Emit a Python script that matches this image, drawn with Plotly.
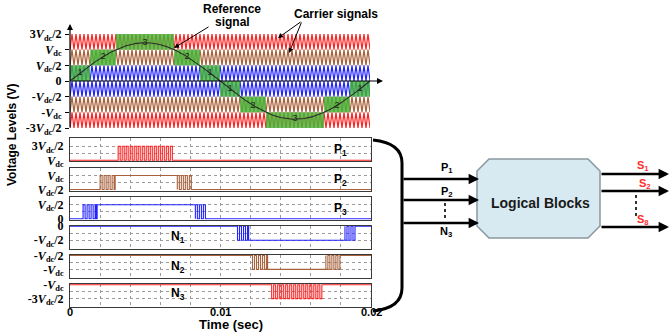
import numpy as np
import plotly.graph_objects as go

W, H = 670, 332

# ---------------- data ----------------
period_end = 0.02            # s, time span shown
ref_freq = 50.0              # Hz, reference sine
ref_amp = 2.44               # in units of Vdc/2
carrier_freq = 3750.0        # Hz, carrier triangles
band_levels = [-3, -2, -1, 0, 1, 2]          # lower edge of each carrier band (Vdc/2 units)
band_colors = ["#ff2222", "#a8613a", "#2222ff", "#2222ff", "#a8613a", "#ff2222"]
top_tick_vals = [3, 2, 1, 0, -1, -2, -3]
top_tick_text = ["3<i>V</i><sub>dc</sub>/2", "<i>V</i><sub>dc</sub>", "<i>V</i><sub>dc</sub>/2", "0",
                 "-<i>V</i><sub>dc</sub>/2", "-<i>V</i><sub>dc</sub>", "-3<i>V</i><sub>dc</sub>/2"]

panel_names = ["P<sub>1</sub>", "P<sub>2</sub>", "P<sub>3</sub>", "N<sub>1</sub>", "N<sub>2</sub>", "N<sub>3</sub>"]
panel_kind = ["P", "P", "P", "N", "N", "N"]
panel_colors = ["#ff2222", "#a8613a", "#2222ff", "#2222ff", "#a8613a", "#ff2222"]
panel_hi_text = ["3<i>V</i><sub>dc</sub>/2", "<i>V</i><sub>dc</sub>", "<i>V</i><sub>dc</sub>/2",
                 "0", "-<i>V</i><sub>dc</sub>/2", "-<i>V</i><sub>dc</sub>"]
panel_lo_text = ["<i>V</i><sub>dc</sub>", "<i>V</i><sub>dc</sub>/2", "0",
                 "-<i>V</i><sub>dc</sub>/2", "-<i>V</i><sub>dc</sub>", "-3<i>V</i><sub>dc</sub>/2"]
# switching windows (s)
panel_windows = [
    [(0.0032, 0.0068)],
    [(0.0020, 0.0030), (0.00713, 0.00813)],
    [(0.00087, 0.00173), (0.00833, 0.00913)],
    [(0.01113, 0.01187), (0.01827, 0.0190)],
    [(0.01213, 0.01313), (0.0170, 0.0180)],
    [(0.0134, 0.01673)],
]
x_ticks = [round(0.002 * i, 3) for i in range(11)]
x_label_vals = [0.0, 0.01, 0.02]
x_label_text = ["0", "0.01", "0.02"]

# ---------------- helpers ----------------
def PX(x):
    return x / W

def PY(y):
    return 1 - y / H

fig = go.Figure()

# ---- top panel: carriers ----
t = np.linspace(0, period_end, 6001)
phase = (t * carrier_freq) % 1.0
tri = 1 - 2 * np.abs(phase - 0.5)  # 0..1..0
for lvl, col in zip(band_levels, band_colors):
    fig.add_trace(go.Scatter(x=t, y=lvl + tri, mode="lines", line=dict(color=col, width=1.2),
                             xaxis="x", yaxis="y", hoverinfo="skip", showlegend=False))

ref = ref_amp * np.sin(2 * np.pi * ref_freq * t)

# green regions where the reference lies in a band
label_pts = []
for lvl in band_levels:
    if lvl >= 0:
        inside = (ref >= lvl) & (ref < lvl + 1)
    else:
        inside = (ref < lvl + 1) & (ref >= lvl)
    idx = np.where(inside)[0]
    if len(idx) == 0:
        continue
    splits = np.where(np.diff(idx) > 1)[0]
    starts = np.concatenate([[idx[0]], idx[splits + 1]])
    ends = np.concatenate([idx[splits], [idx[-1]]])
    for s, e in zip(starts, ends):
        a, b = t[s], t[e]
        fig.add_trace(go.Scatter(x=[a, b, b, a, a], y=[lvl, lvl, lvl + 1, lvl + 1, lvl],
                                 fill="toself", fillcolor="rgba(70,180,55,0.82)",
                                 line=dict(width=0), mode="lines", xaxis="x", yaxis="y",
                                 hoverinfo="skip", showlegend=False))
        tc = 0.5 * (a + b)
        label_pts.append((tc, ref_amp * np.sin(2 * np.pi * ref_freq * tc),
                          str(lvl + 1 if lvl >= 0 else -lvl)))

fig.add_trace(go.Scatter(x=t, y=ref, mode="lines", line=dict(color="#2b2b2b", width=1.1),
                         xaxis="x", yaxis="y", hoverinfo="skip", showlegend=False))
fig.add_trace(go.Scatter(x=[p[0] for p in label_pts], y=[p[1] for p in label_pts],
                         text=[p[2] for p in label_pts], mode="text",
                         textfont=dict(size=9, color="#222", family="Liberation Sans"),
                         xaxis="x", yaxis="y", hoverinfo="skip", showlegend=False))

# ---- lower panels ----
Tc = 1.0 / carrier_freq
layout_axes = {}
top0, step, ph = 138.3, 29.2, 23.0
for i in range(6):
    kind = panel_kind[i]
    base = 0 if kind == "P" else 1
    mid = 1 - base
    wins = panel_windows[i]
    xs, ys = [0.0], [base]
    for k, (a, b) in enumerate(wins):
        xs.append(a); ys.append(base)
        tt = a
        while tt < b:
            xs += [tt, tt + 0.5 * Tc]
            ys += [mid, base]
            tt += Tc
        if k == 0 and len(wins) == 2:
            xs.append(b); ys.append(mid)
        else:
            xs.append(b); ys.append(base)
    xs.append(period_end); ys.append(ys[-1])
    n = i + 2
    fig.add_trace(go.Scatter(x=xs, y=ys, mode="lines", line=dict(color=panel_colors[i], width=1.1, shape="hv"),
                             xaxis=f"x{n}", yaxis=f"y{n}", hoverinfo="skip", showlegend=False))
    top = top0 + step * i
    bot = top + ph
    if kind == "P":
        yr = [-0.07, 1.57]
    else:
        yr = [-0.62, 1.02]
    layout_axes[f"xaxis{n}"] = dict(domain=[PX(70), PX(371)], anchor=f"y{n}", range=[0, period_end],
                                    tickvals=x_ticks, showticklabels=False,
                                    showgrid=True, gridcolor="#9a9a9a", griddash="dot", gridwidth=1,
                                    showline=True, mirror=True, linecolor="#3a3a3a", linewidth=1,
                                    ticks="", zeroline=False, automargin=False)
    layout_axes[f"yaxis{n}"] = dict(domain=[PY(bot), PY(top)], anchor=f"x{n}", range=yr,
                                    tickvals=[0, 0.5, 1], ticktext=[panel_lo_text[i], "", panel_hi_text[i]],
                                    showgrid=True, gridcolor="#9a9a9a", griddash="dot", gridwidth=1,
                                    showline=True, mirror=True, linecolor="#3a3a3a", linewidth=1,
                                    ticks="", zeroline=False, ticklabelstandoff=3, automargin=False,
                                    tickfont=dict(family="Liberation Serif", size=12, color="black", weight="bold"))

fig.update_layout(
    width=W, height=H, margin=dict(l=0, r=0, t=0, b=0, autoexpand=False),
    paper_bgcolor="white", plot_bgcolor="white", showlegend=False,
    xaxis=dict(domain=[PX(70), PX(370)], anchor="y", range=[0, period_end], showticklabels=False,
               showgrid=False, zeroline=False, showline=False, ticks="", automargin=False),
    yaxis=dict(domain=[PY(128), PY(34)], anchor="x", range=[-3, 3], tickvals=top_tick_vals,
               ticktext=top_tick_text, showgrid=False, zeroline=False, showline=False,
               ticks="outside", ticklen=4, tickcolor="black", ticklabelstandoff=1, automargin=False,
               tickfont=dict(family="Liberation Serif", size=12, color="black", weight="bold")),
    **layout_axes,
)

ann = []
def arrow(tx, ty, hx, hy, w=1.2, head=2, size=1.0):
    ann.append(dict(x=PX(hx), y=PY(hy), xref="paper", yref="paper", ax=tx - hx, ay=ty - hy,
                    axref="pixel", ayref="pixel", text="", showarrow=True, arrowhead=head,
                    arrowsize=size, arrowwidth=w, arrowcolor="black"))

def text(x, y, s, size=12, color="black", fam="Liberation Sans", angle=0):
    ann.append(dict(x=PX(x), y=PY(y), xref="paper", yref="paper", text=s, showarrow=False,
                    xanchor="center", yanchor="middle",
                    textangle=angle, font=dict(family=fam, size=size, color=color, weight="bold")))

# bottom time tick labels, placed through the bottom panel's x axis
for v, s in zip(x_label_vals, x_label_text):
    ann.append(dict(x=v, y=PY(311.5), xref="x7", yref="paper", text=s, showarrow=False,
                    xanchor="center", yanchor="middle",
                    font=dict(family="Liberation Sans", size=11, color="black", weight="bold")))

# axes arrows of the top panel
arrow(70, 129, 70, 24, w=1.2)
arrow(70, 81, 383, 81, w=1.2)

# callouts
text(232, 9, "Reference", 12)
text(232, 22, "signal", 12)
arrow(210, 26, 174, 48, w=1.0)
text(336, 14, "Carrier signals", 12)
arrow(302, 21, 278, 38, w=1.0)
arrow(302, 21, 289, 53, w=1.0)

# axis titles
text(12, 135, "Voltage Levels (V)", 12, angle=-90)
text(231, 324.5, "Time (sec)", 13)

# panel labels
for i, (lx, ly) in enumerate([(340, 150), (340, 180), (340, 209), (178, 237), (178, 267), (178, 294)]):
    text(lx, ly, panel_names[i], 12)

# right-hand block diagram
arrow(402, 179, 479, 179, w=2.6, size=0.8)
arrow(402, 200, 479, 200, w=2.6, size=0.8)
arrow(402, 223, 479, 223, w=2.6, size=0.8)
text(447, 168, "P<sub>1</sub>", 11)
text(447, 192, "P<sub>2</sub>", 11)
text(446, 232, "N<sub>3</sub>", 11)
text(540, 203, "Logical Blocks", 14, color="#1a1a1a")
arrow(600, 174, 669, 174, w=2.6, size=0.8)
arrow(600, 191, 669, 191, w=2.6, size=0.8)
arrow(600, 227, 669, 227, w=2.6, size=0.8)
text(643, 166, "S<sub>1</sub>", 11, color="#ff2a2a")
text(645, 184, "S<sub>2</sub>", 11, color="#ff2a2a")
text(643, 220, "S<sub>8</sub>", 11, color="#ff2a2a")

shapes = []
br = (f"M {PX(373)},{PY(140)} Q {PX(402)},{PY(143)} {PX(402)},{PY(163)} "
      f"L {PX(402)},{PY(288)} Q {PX(402)},{PY(308)} {PX(373)},{PY(311)}")
shapes.append(dict(type="path", path=br, xref="paper", yref="paper", line=dict(color="black", width=3)))
c = 12
L, R, T, B = 477, 600, 159, 238
pts = [(L + c, T), (R - c, T), (R, T + c), (R, B - c), (R - c, B), (L + c, B), (L, B - c), (L, T + c)]
oct_path = "M " + " L ".join(f"{PX(x)},{PY(y)}" for x, y in pts) + " Z"
shapes.append(dict(type="path", path=oct_path, xref="paper", yref="paper",
                   fillcolor="#d8eaf1", line=dict(color="#8a989e", width=1.5), layer="below"))
shapes.append(dict(type="line", xref="paper", yref="paper", x0=PX(445), x1=PX(445), y0=PY(203), y1=PY(218),
                   line=dict(color="#333", width=2, dash="dot")))
shapes.append(dict(type="line", xref="paper", yref="paper", x0=PX(636), x1=PX(636), y0=PY(195), y1=PY(216),
                   line=dict(color="#333", width=2, dash="dot")))

fig.update_layout(annotations=ann, shapes=shapes)
fig.write_html("out.html", config={"displayModeBar": False})

# remove the browser's default page margin so the figure fills the window
with open("out.html", encoding="utf-8") as f:
    html = f.read()
html = html.replace("<head>", "<head><style>html,body{margin:0;padding:0;overflow:hidden;}</style>", 1)
with open("out.html", "w", encoding="utf-8") as f:
    f.write(html)
